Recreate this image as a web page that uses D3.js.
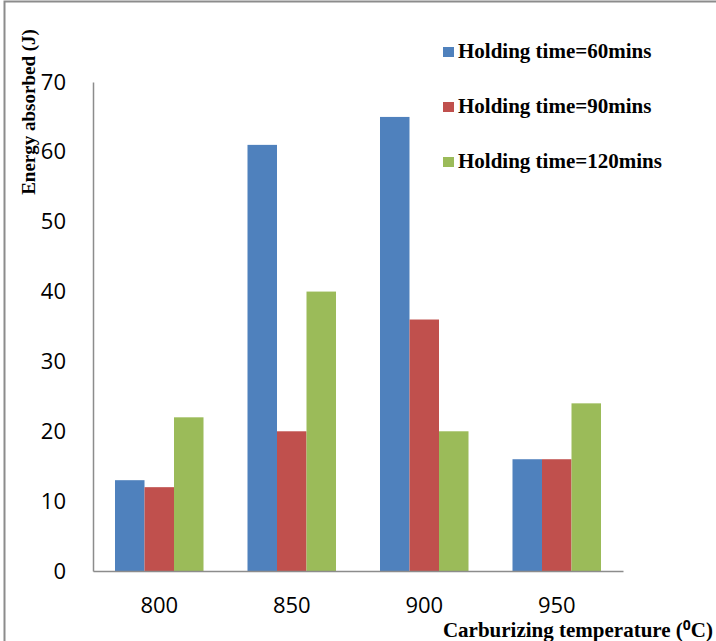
<!DOCTYPE html>
<html>
<head>
<meta charset="utf-8">
<script src="https://cdn.jsdelivr.net/npm/d3@7"></script>
<style>
  body { margin: 0; background: #fff; }
</style>
</head>
<body>
<div id="chart"></div>
<script>
const temperatures = ["800", "850", "900", "950"];
const seriesNames = ["Holding time=60mins", "Holding time=90mins", "Holding time=120mins"];
const time60 = [13, 61, 65, 16];
const time90 = [12, 20, 36, 16];
const time120 = [22, 40, 20, 24];
const yTicks = [0, 10, 20, 30, 40, 50, 60, 70];
const colors = ["#4F81BD", "#C0504D", "#9BBB59"];

const seriesValues = [time60, time90, time120];

const width = 716;
const height = 641;
const marginLeft = 93;
const marginRight = 93;
const marginTop = 82;
const marginBottom = 70;

const svg = d3.select("#chart")
    .append("svg")
    .attr("width", width)
    .attr("height", height);

// cadre
svg.append("rect")
    .attr("x", 4.5)
    .attr("y", 1.5)
    .attr("width", width - 3)
    .attr("height", height)
    .attr("fill", "none")
    .attr("stroke", "#8c8c8c")
    .attr("stroke-width", 2);

const x0 = d3.scaleBand()
    .domain(temperatures)
    .range([marginLeft, width - marginRight])
    .paddingInner(0.332)
    .paddingOuter(0.166);

const x1 = d3.scaleBand()
    .domain(d3.range(seriesNames.length))
    .range([0, x0.bandwidth()]);

const y = d3.scaleLinear()
    .domain([0, 70])
    .range([height - marginBottom, marginTop]);

// barres
temperatures.forEach((t, i) => {
    svg.append("g")
        .selectAll("rect")
        .data(seriesValues.map((s, j) => ({ j, v: s[i] })))
        .join("rect")
        .attr("x", d => x0(t) + x1(d.j))
        .attr("y", d => y(d.v))
        .attr("width", x1.bandwidth())
        .attr("height", d => y(0) - y(d.v))
        .attr("fill", d => colors[d.j]);
});

// axe Y
svg.append("g")
    .attr("transform", `translate(${marginLeft},0)`)
    .call(d3.axisLeft(y).tickValues(yTicks).tickSize(0).tickPadding(27))
    .call(g => g.select(".domain").attr("stroke", "#8c8c8c").attr("stroke-width", 1.5))
    .call(g => g.selectAll("text")
        .attr("font-family", "Open Sans, sans-serif")
        .attr("font-size", "22px")
        .attr("fill", "#000"));

// axe X
svg.append("g")
    .attr("transform", `translate(0,${height - marginBottom})`)
    .call(d3.axisBottom(x0).tickSize(0).tickPadding(26))
    .call(g => g.select(".domain").attr("stroke", "#8c8c8c").attr("stroke-width", 1.5))
    .call(g => g.selectAll("text")
        .attr("font-family", "Open Sans, sans-serif")
        .attr("font-size", "22px")
        .attr("fill", "#000"));

// titres des axes
svg.append("text")
    .attr("transform", "translate(35,112) rotate(-90)")
    .attr("text-anchor", "middle")
    .attr("font-family", "Liberation Serif, serif")
    .attr("font-weight", "bold")
    .attr("font-size", "19px")
    .text("Energy absorbed (J)");

const xt = svg.append("text")
    .attr("x", 713)
    .attr("y", 637)
    .attr("text-anchor", "end")
    .attr("font-family", "Liberation Serif, serif")
    .attr("font-weight", "bold")
    .attr("font-size", "21px");
xt.append("tspan").text("Carburizing temperature (");
xt.append("tspan").attr("font-family", "Open Sans, sans-serif").attr("font-size", "14px").attr("dy", -7).text("0");
xt.append("tspan").attr("dy", 7).text("C)");

// légende
const legend = svg.append("g")
    .selectAll("g")
    .data(seriesNames)
    .join("g")
    .attr("transform", (d, i) => `translate(443,${58 + i * 55})`);

legend.append("rect")
    .attr("x", 0)
    .attr("y", -11)
    .attr("width", 11)
    .attr("height", 10)
    .attr("fill", (d, i) => colors[i]);

legend.append("text")
    .attr("x", 15)
    .attr("y", 0)
    .attr("font-family", "Liberation Serif, serif")
    .attr("font-weight", "bold")
    .attr("font-size", "21px")
    .text(d => d);
</script>
</body>
</html>
